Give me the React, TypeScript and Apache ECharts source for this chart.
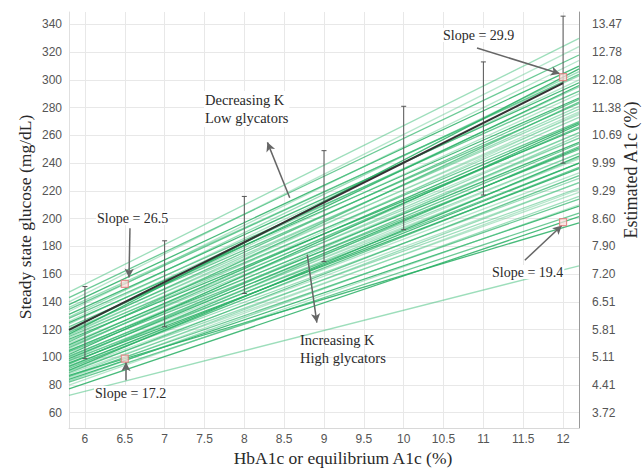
import React, { useEffect, useRef } from "react";
import * as echarts from "echarts";

// ---- data ----
const xTicks = [6, 6.5, 7, 7.5, 8, 8.5, 9, 9.5, 10, 10.5, 11, 11.5, 12];
const yTicks = [60, 80, 100, 120, 140, 160, 180, 200, 220, 240, 260, 280, 300, 320, 340];
const a1cLabels = ["3.72", "4.41", "5.11", "5.81", "6.51", "7.20", "7.90", "8.60", "9.29", "9.99", "10.69", "11.38", "12.08", "12.78", "13.47"];

// individual glycation lines: glucose at x = 5.8 and at x = 12.2
const lineX = [5.8, 12.2];
const lineStart = [
  147, 143, 140, 138, 136, 134.5, 133, 131, 129, 128, 126, 125, 124, 122, 121, 120, 119, 118, 117, 116.6,
  116, 115, 114, 113, 112, 111, 110, 109, 108, 107, 106, 105, 104.5, 104, 103, 102, 101, 100.5, 100, 99,
  98, 97.5, 97, 96, 95.5, 95, 94, 93.5, 93, 92, 91, 90.5, 90, 89, 88, 87, 86.5, 86, 85, 84, 83, 82, 80, 77.2, 72.6,
];
const lineEnd = [
  330, 318, 324, 310, 303, 304, 314, 298, 306, 292, 300, 287, 295, 283, 290, 296, 279, 286, 275, 308,
  281, 270, 277, 265, 273, 284, 262, 269, 258, 266, 276, 255, 262, 250, 258, 268, 247, 254, 243, 251,
  260, 240, 247, 236, 244, 252, 233, 240, 229, 237, 226, 245, 222, 231, 219, 197, 226, 214, 221, 209, 216, 204, 210, 201.4, 166,
];

// mean (ADAG) line
const meanX = [5.8, 12];
const meanY = [119.8, 297.7];

// error bars
const errX = [6, 7, 8, 9, 10, 11, 12];
const errLow = [99, 122, 146, 169, 192, 217, 240];
const errHigh = [151, 184, 216, 249, 281, 313, 346];

// slope markers
const markX = [6.5, 6.5, 12, 12];
const markY = [153, 99, 302, 197.5];
const slopeLabels = ["Slope = 26.5", "Slope = 17.2", "Slope = 29.9", "Slope = 19.4"];

// annotation arrows [x1, y1, x2, y2] in data units
const arrows = [
  [8.57, 215, 8.29, 255],
  [8.79, 174, 8.91, 125],
  [6.565, 193, 6.553, 157.5],
  [6.515, 83.5, 6.515, 96.5],
  [10.92, 323, 11.96, 304.5],
  [11.52, 170, 11.985, 195],
];

const SERIF = '"Liberation Serif", "DejaVu Serif", serif';
const SANS = '"Liberation Sans", Arial, sans-serif';

export default function App() {
  const ref = useRef<HTMLDivElement>(null);
  useEffect(() => {
    if (!ref.current) return;
    const chart = echarts.init(ref.current, undefined, { renderer: "svg" });
    const greens = ["rgba(40,175,100,0.85)", "rgba(60,190,120,0.5)", "rgba(45,180,105,0.7)", "rgba(90,200,140,0.45)"];
    const lineSeries = lineStart.map((s, i) => ({
      type: "line",
      data: [[lineX[0], s], [lineX[1], lineEnd[i]]],
      showSymbol: false,
      silent: true,
      z: 2,
      lineStyle: { color: greens[(i + 1) % 4], width: 1.3 },
    }));
    const annot = (x: number, y: number, text: string, extra: any = {}) => ({
      type: "text",
      x,
      y,
      z: 100,
      style: {
        text,
        font: `14px ${SERIF}`,
        fill: "#2a2a2a",
        verticalAlign: "middle",
        backgroundColor: "#fff",
        padding: [0, 1],
        ...extra,
      },
    });
    const option: any = {
      animation: false,
      grid: { left: 69, right: 64, top: 12, bottom: 45, outerBoundsMode: "none", containLabel: false },
      xAxis: {
        type: "value",
        min: 5.8,
        max: 12.2,
        axisLine: { show: true, lineStyle: { color: "#d8d8d8" } },
        axisTick: { show: false, customValues: xTicks },
        axisLabel: { customValues: xTicks, color: "#555", fontSize: 12, fontFamily: SANS, margin: 5 },
        splitLine: { show: true, lineStyle: { color: "#e8e8e8" } },
      },
      yAxis: [
        {
          type: "value",
          min: 49,
          max: 349,
          axisLine: { show: true, lineStyle: { color: "#e0e0e0" } },
          axisTick: { show: false, customValues: yTicks },
          axisLabel: { customValues: yTicks, color: "#555", fontSize: 12, fontFamily: SANS, margin: 7 },
          splitLine: { show: true, lineStyle: { color: "#e8e8e8" } },
        },
        {
          type: "value",
          min: 49,
          max: 349,
          position: "right",
          axisLine: { show: true, lineStyle: { color: "#999" } },
          axisTick: { show: false, customValues: yTicks },
          axisLabel: {
            customValues: yTicks,
            color: "#555",
            fontSize: 12,
            fontFamily: SANS,
            margin: 13,
            formatter: (v: number) => {
              const k = yTicks.indexOf(Math.round(v));
              return k >= 0 ? a1cLabels[k] : "";
            },
          },
          splitLine: { show: false },
        },
      ],
      series: [
        ...lineSeries,
        {
          type: "custom",
          z: 4,
          silent: true,
          data: errX.map((x, i) => [x, errLow[i], errHigh[i]]),
          renderItem: (params: any, api: any) => {
            const x = api.value(0);
            const lo = api.coord([x, api.value(1)]);
            const hi = api.coord([x, api.value(2)]);
            const st = { stroke: "#555", lineWidth: 1 };
            return {
              type: "group",
              children: [
                { type: "line", shape: { x1: lo[0], y1: lo[1], x2: hi[0], y2: hi[1] }, style: st },
                { type: "line", shape: { x1: lo[0] - 2.5, y1: lo[1], x2: lo[0] + 2.5, y2: lo[1] }, style: st },
                { type: "line", shape: { x1: hi[0] - 2.5, y1: hi[1], x2: hi[0] + 2.5, y2: hi[1] }, style: st },
              ],
            };
          },
        },
        {
          type: "line",
          z: 5,
          silent: true,
          data: meanX.map((x, i) => [x, meanY[i]]),
          showSymbol: false,
          lineStyle: { color: "#333", width: 2 },
          markLine: {
            silent: true,
            symbol: ["none", "arrow"],
            symbolSize: [7, 9],
            label: { show: false },
            lineStyle: { color: "#666", width: 1.5, type: "solid" },
            data: arrows.map((a) => [{ coord: [a[0], a[1]] }, { coord: [a[2], a[3]] }]),
          },
        },
        {
          type: "scatter",
          z: 6,
          silent: true,
          data: markX.map((x, i) => [x, markY[i]]),
          symbol: "rect",
          symbolSize: 7,
          itemStyle: { color: "rgba(255,220,220,0.9)", borderColor: "#e07a7a", borderWidth: 1.2 },
        },
      ],
      graphic: [
        {
          type: "text",
          x: 25,
          y: 217,
          rotation: Math.PI / 2,
          style: { text: "Steady state glucose (mg/dL)", font: `17.5px ${SERIF}`, fill: "#2a2a2a", align: "center", verticalAlign: "middle" },
        },
        {
          type: "text",
          x: 631,
          y: 170,
          rotation: Math.PI / 2,
          style: { text: "Estimated A1c (%)", font: `18px ${SERIF}`, fill: "#2a2a2a", align: "center", verticalAlign: "middle" },
        },
        {
          type: "text",
          x: 343,
          y: 458,
          style: { text: "HbA1c or equilibrium A1c (%)", font: `17.5px ${SERIF}`, fill: "#2a2a2a", align: "center", verticalAlign: "middle" },
        },
        annot(204, 91, "Decreasing K\nLow glycators", { lineHeight: 18, verticalAlign: "top", font: `14.5px ${SERIF}` }),
        annot(299, 331, "Increasing K\nHigh glycators", { lineHeight: 18, verticalAlign: "top", font: `14.5px ${SERIF}`, backgroundColor: "transparent" }),
        annot(96, 218, slopeLabels[0]),
        annot(94, 393, slopeLabels[1]),
        annot(442, 35, slopeLabels[2]),
        annot(491, 272, slopeLabels[3]),
      ],
    };
    chart.setOption(option);
    return () => chart.dispose();
  }, []);
  return <div ref={ref} style={{ width: 643, height: 473, position: "absolute", left: 0, top: 0, background: "#fff" }} />;
}
